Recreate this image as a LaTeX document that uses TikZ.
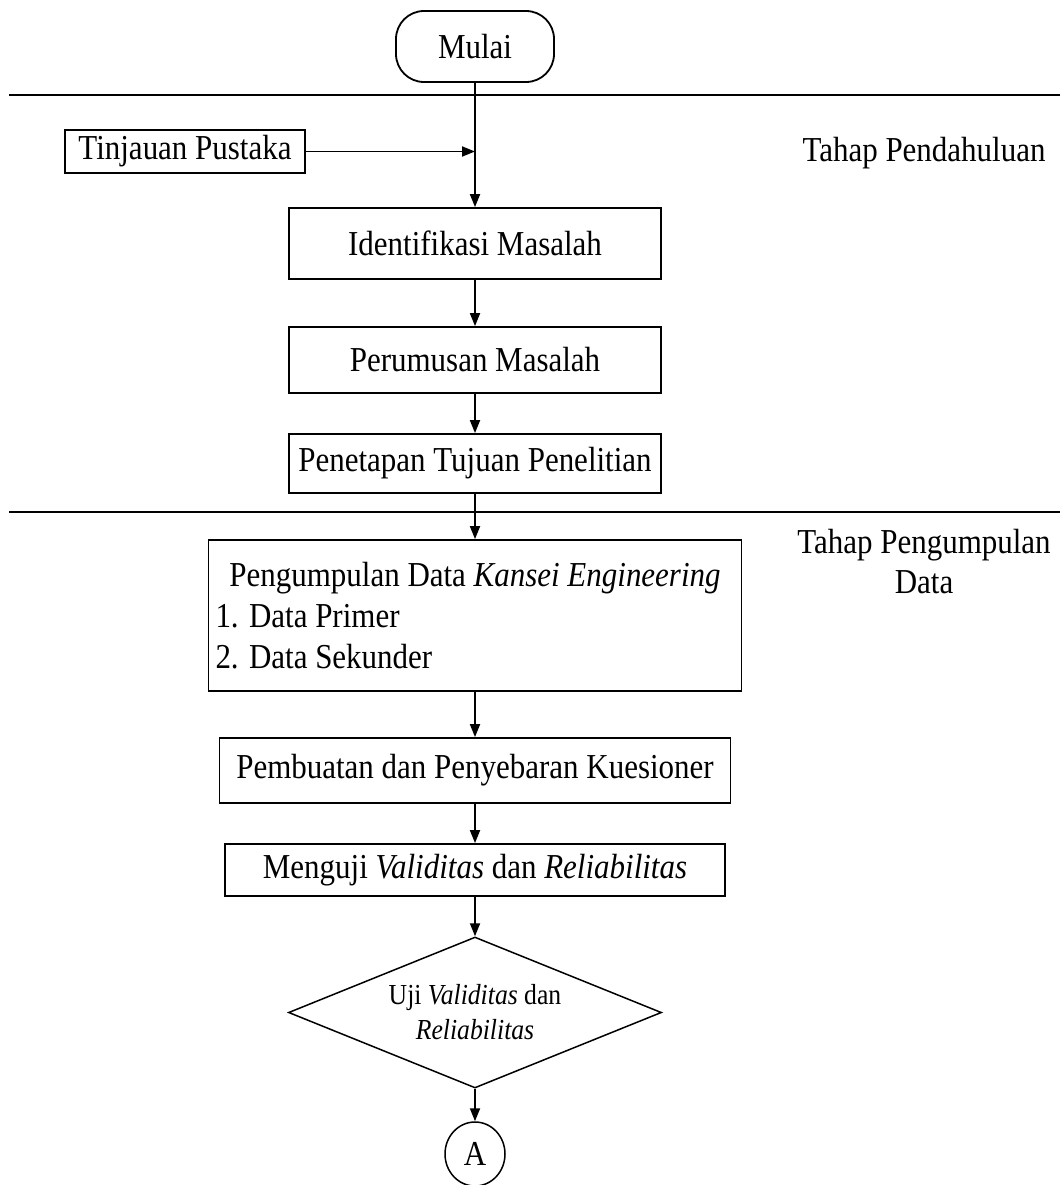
\documentclass[tikz,border=0pt]{standalone}
\usepackage{fontspec}
\setmainfont{Liberation Serif}[FakeStretch=0.885]
\usetikzlibrary{arrows.meta,shapes.geometric}
\begin{document}
\begin{tikzpicture}[x=1pt,y=-1pt,
  every node/.style={font=\fontsize{35}{41}\selectfont},
  box/.style={draw, line width=1.8pt, inner sep=0pt},
  arr/.style={line width=1.8pt, -{Triangle[length=13pt,width=10pt]}},
  sep/.style={line width=1.8pt}]
\useasboundingbox (0,0) rectangle (1060,1185);
\fill[white] (0,0) rectangle (1060,1185);
% phase separators
\coordinate (s1a) at (9,95);
\coordinate (s1b) at (1060,95);
\coordinate (s2a) at (9,512);
\coordinate (s2b) at (1060,512);
\draw[sep] (s1a) -- (s1b);
\draw[sep] (s2a) -- (s2b);
% nodes
\node[box, rounded corners=28pt, minimum width=158pt, minimum height=71pt] (mulai) at (475,46.5) {Mulai};
\node[box, minimum width=240pt, minimum height=43pt] (tp) at (185,151.5) {Tinjauan Pustaka};
\node (tahap1) at (924,153) {Tahap Pendahuluan};
\node[box, minimum width=372pt, minimum height=71pt] (im) at (475,243.5) {Identifikasi Masalah};
\node[box, minimum width=372pt, minimum height=66pt] (pm) at (475,360) {Perumusan Masalah};
\node[box, minimum width=372pt, minimum height=59pt] (pt) at (475,463.5) {Penetapan Tujuan Penelitian};
\node[box, minimum width=533pt, minimum height=151pt, align=left] (pd) at (475,615.5)
  {\makebox[519pt][c]{Pengumpulan Data \textit{Kansei Engineering}}\\1. Data Primer\\2. Data Sekunder};
\node[align=center, font=\fontsize{35}{40}\selectfont] (tahap2) at (924,562) {Tahap Pengumpulan\\Data};
\node[box, minimum width=511pt, minimum height=65pt] (pk) at (475,770.5) {Pembuatan dan Penyebaran Kuesioner};
\node[box, minimum width=500pt, minimum height=52pt] (mv) at (475,870) {Menguji \textit{Validitas} dan \textit{Reliabilitas}};
\node[diamond, draw, line width=1.5pt, aspect=2.47, minimum width=373pt, minimum height=151pt, inner sep=0pt, align=center,
  font=\fontsize{29}{35}\selectfont] (uji) at (475,1012.5) {Uji \textit{Validitas} dan\\\textit{Reliabilitas}};
\node[ellipse, draw, line width=1.5pt, minimum width=60pt, minimum height=64pt, inner sep=0pt] (A) at (475,1154) {A};
% connectors
\coordinate (j) at (mulai.south |- tp.east);
\draw[arr] (mulai.south) -- (im.north);
\draw[arr] (tp.east) -- (j);
\draw[arr] (im.south) -- (pm.north);
\draw[arr] (pm.south) -- (pt.north);
\draw[arr] (pt.south) -- (pd.north);
\draw[arr] (pd.south) -- (pk.north);
\draw[arr] (pk.south) -- (mv.north);
\draw[arr] (mv.south) -- (uji.north);
\draw[arr] (uji.south) -- (A.north);
\end{tikzpicture}
\end{document}
